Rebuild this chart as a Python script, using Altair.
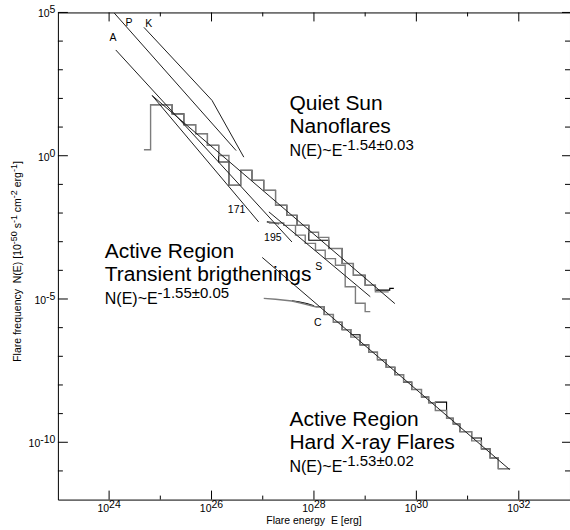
import altair as alt
import pandas as pd

# ---------------- data (log10 values) ----------------
# power-law fit lines
P_logE = [24.10, 26.48]
P_logN = [4.98, 0.18]
K_logE = [24.68, 26.01, 26.63]
K_logN = [4.48, 1.93, -0.05]
A_logE = [24.13, 27.57]
A_logN = [3.69, -3.01]
L171_logE = [24.84, 26.92]
L171_logN = [2.10, -2.31]
QSfit_logE = [24.84, 29.58]
QSfit_logN = [2.10, -5.16]
Sfit_logE = [27.12, 29.10]
Sfit_logN = [-1.96, -4.92]
Cfit_logE = [26.99, 31.82]
Cfit_logN = [-3.55, -10.95]

# Quiet Sun histograms (bin edges, values)
qs_gray_E = [24.68, 24.81, 25.23, 25.46, 25.69, 25.92, 26.14, 26.34, 26.57, 26.79, 27.02,
             27.25, 27.47, 27.67, 27.90, 28.09, 28.29, 28.55, 28.77, 29.00, 29.20, 29.46]
qs_gray_N = [0.21, 1.78, 1.46, 1.08, 0.77, 0.36, 0.01, -1.03, -0.51, -0.86, -1.21,
             -1.73, -2.08, -2.43, -2.67, -2.85, -3.24, -3.76, -4.17, -4.52, -4.75, -4.75]
qs_black_E = [24.81, 25.23, 25.46, 25.69, 25.92, 26.14, 26.34, 26.57, 26.79, 27.02, 27.25,
              27.47, 27.67, 27.90, 28.09, 28.29, 28.55, 28.77, 29.00, 29.20, 29.48, 29.56]
qs_black_N = [1.78, 1.46, 1.08, 0.77, 0.36, -0.22, -1.03, -0.51, -0.86, -1.21, -1.73,
              -2.08, -2.43, -2.95, -2.95, -3.24, -3.76, -4.17, -4.52, -4.69, -4.63, -4.63]

# 195 / S histogram
s_gray_E = [27.12, 27.41, 27.64, 27.83, 28.03, 28.22, 28.42, 28.61, 28.81, 29.00, 29.10]
s_gray_N = [-2.35, -2.43, -2.77, -3.06, -3.30, -3.59, -3.82, -4.57, -5.15, -5.44, -5.44]
s_black_E = [27.08, 27.20, 27.32]
s_black_N = [-2.31, -2.33, -2.38]

# Hard X-ray (C) distribution: rollover part and histogram
c_roll_E = [27.02, 27.25, 27.57, 27.76, 28.03]
c_roll_N = [-4.98, -5.01, -5.07, -5.15, -5.27]
c_roll_black_E = [27.57, 27.70, 27.86, 28.00]
c_roll_black_N = [-5.06, -5.10, -5.16, -5.24]
c_E = [28.03, 28.20, 28.38, 28.55, 28.72, 28.90, 29.07, 29.24, 29.41, 29.58, 29.75, 29.91,
       30.10, 30.24, 30.37, 30.59, 30.72, 30.85, 31.08, 31.27, 31.44, 31.60, 31.83]
c_gray_N = [-5.27, -5.54, -5.81, -6.07, -6.33, -6.60, -6.86, -7.12, -7.38, -7.64, -7.90, -8.16,
            -8.42, -8.62, -8.89, -9.16, -9.36, -9.63, -9.95, -10.23, -10.55, -10.92, -10.92]
c_black_N = [-5.27, -5.54, -5.81, -6.07, -6.25, -6.60, -6.86, -7.12, -7.38, -7.64, -7.90, -8.16,
             -8.42, -8.62, -8.60, -9.16, -9.36, -9.63, -9.85, -10.23, -10.55, -10.92, -10.92]

# tick values (log10)
x_major = [24, 26, 28, 30, 32]
x_minor = [25, 27, 29, 31]
y_major = [5, 0, -5, -10]
y_minor = [4, 3, 2, 1, -1, -2, -3, -4, -6, -7, -8, -9, -11]

# ---------------- layout ----------------
W, H = 513, 488
FONT = "Liberation Sans, Arial, Helvetica, sans-serif"
xs = alt.Scale(type="log", domain=[1e23, 1e33], nice=False)
ys = alt.Scale(type="log", domain=[1e-12, 1e5], nice=False)
X = alt.X("E:Q", scale=xs, axis=None)
Y = alt.Y("N:Q", scale=ys, axis=None)

CW = {' ': 278, '(': 333, ')': 333, '[': 278, ']': 278, '-': 333, '.': 278, '~': 584, '±': 549,
      'N': 722, 'E': 667, 'F': 611, 'c': 500, 'f': 278, 'i': 222, 'l': 222, 'm': 833, 'r': 333,
      's': 500, 't': 278, 'y': 500}


def tw(s, size):
    return sum(CW.get(ch, 556) for ch in s) / 1000.0 * size


def df_of(name, le, ln):
    return pd.DataFrame({"s": name, "E": [10.0 ** v for v in le],
                         "N": [10.0 ** v for v in ln], "i": list(range(len(le)))})


one = pd.DataFrame({"a": [0]})


def txt(s, x, y, size, align="left", angle=0, baseline="alphabetic", dx=0):
    return alt.Chart(one).mark_text(text=s, align=align, baseline=baseline, fontSize=size,
                                    font=FONT, angle=angle, color="black", dx=dx).encode(
        x=alt.value(x), y=alt.value(y))


layers = []

# black histograms first (gray drawn over them)
black_steps = pd.concat([df_of("qsb", qs_black_E, qs_black_N), df_of("cb", c_E, c_black_N)])
layers.append(alt.Chart(black_steps).mark_line(color="black", strokeWidth=1.1, interpolate="step-after",
                                               clip=True).encode(x=X, y=Y, detail="s:N", order="i:Q"))
black_lines = pd.concat([df_of("sb", s_black_E, s_black_N), df_of("crb", c_roll_black_E, c_roll_black_N)])
layers.append(alt.Chart(black_lines).mark_line(color="black", strokeWidth=1.1, clip=True).encode(
    x=X, y=Y, detail="s:N", order="i:Q"))

gray_steps = pd.concat([df_of("qsg", qs_gray_E, qs_gray_N), df_of("sg", s_gray_E, s_gray_N),
                        df_of("cg", c_E, c_gray_N)])
layers.append(alt.Chart(gray_steps).mark_line(color="#7c7c7c", strokeWidth=1.4, interpolate="step-after",
                                              clip=True).encode(x=X, y=Y, detail="s:N", order="i:Q"))
layers.append(alt.Chart(df_of("cr", c_roll_E, c_roll_N)).mark_line(color="#7c7c7c", strokeWidth=1.4,
                                                                    clip=True).encode(x=X, y=Y, order="i:Q"))

fits = pd.concat([df_of("P", P_logE, P_logN), df_of("K", K_logE, K_logN), df_of("A", A_logE, A_logN),
                  df_of("171", L171_logE, L171_logN), df_of("QS", QSfit_logE, QSfit_logN),
                  df_of("S", Sfit_logE, Sfit_logN), df_of("C", Cfit_logE, Cfit_logN)])
layers.append(alt.Chart(fits).mark_line(color="#1e1e1e", strokeWidth=1, clip=True).encode(
    x=X, y=Y, detail="s:N", order="i:Q"))

# ---------------- ticks (inward, on all four sides) ----------------
def vdf(vals):
    return pd.DataFrame({"v": [10.0 ** v for v in vals]})


VX = alt.X("v:Q", scale=xs, axis=None)
VY = alt.Y("v:Q", scale=ys, axis=None)
for vals, ln in ((x_major, 9), (x_minor, 4)):
    layers.append(alt.Chart(vdf(vals)).mark_rule(color="black", strokeWidth=1).encode(
        x=VX, y=alt.value(H), y2=alt.value(H - ln)))
    layers.append(alt.Chart(vdf(vals)).mark_rule(color="black", strokeWidth=1).encode(
        x=VX, y=alt.value(0), y2=alt.value(ln)))
for vals, ln, lr in ((y_major, 10, 8), (y_minor, 5, 5)):
    layers.append(alt.Chart(vdf(vals)).mark_rule(color="black", strokeWidth=1).encode(
        y=VY, x=alt.value(0), x2=alt.value(ln)))
    layers.append(alt.Chart(vdf(vals)).mark_rule(color="black", strokeWidth=1).encode(
        y=VY, x=alt.value(W), x2=alt.value(W - lr)))

# ---------------- tick labels ----------------
TS = 10.5
xl = pd.DataFrame({"v": [10.0 ** v for v in x_major], "b": ["10"] * len(x_major),
                   "e": [str(v) for v in x_major]})
layers.append(alt.Chart(xl).mark_text(align="right", baseline="alphabetic", fontSize=TS, font=FONT,
                                      color="black").encode(x=VX, y=alt.value(H + 12), text="b:N"))
layers.append(alt.Chart(xl).mark_text(align="left", baseline="alphabetic", fontSize=TS, font=FONT,
                                      color="black").encode(x=VX, y=alt.value(H + 8), text="e:N"))
for v in y_major:
    e = str(v)
    d = pd.DataFrame({"v": [10.0 ** v]})
    layers.append(alt.Chart(d).mark_text(text=e, align="right", baseline="alphabetic", fontSize=TS,
                                         font=FONT, color="black", dy=1).encode(
        x=alt.value(-2.5), y=VY))
    layers.append(alt.Chart(d).mark_text(text="10", align="right", baseline="alphabetic", fontSize=TS,
                                         font=FONT, color="black", dy=5, dx=-tw(e, TS)).encode(
        x=alt.value(-2.5), y=VY))

# ---------------- axis titles ----------------
xt_start = 208.7
layers.append(txt("Flare energy", xt_start, 512, TS))
layers.append(txt("E [erg]", xt_start + tw("Flare energy  ", TS), 512, TS))
# rotated y title built from pieces (superscripts raised); words placed separately so spaces are kept
pieces = [("Flare", False), (" frequency", False), ("  N(E)", False), (" [10", False), ("-50", True),
          (" s", False), ("-1", True), (" cm", False), ("-2", True), (" erg", False), ("-1", True),
          ("]", False)]
ypos = 350.0
for s, sup in pieces:
    size = 9.0 if sup else TS
    lead = len(s) - len(s.lstrip(" "))
    ypos -= tw(" " * lead, size)
    core = s.lstrip(" ")
    layers.append(txt(core, -37.0 - (3.5 if sup else 0), ypos, size, align="left", angle=270))
    ypos -= tw(core, size)

# ---------------- annotations ----------------
BIG, MID, SUP, SM = 21, 16, 15, 10.5


def block(x, y0, l1, l2, base, exp):
    out = [txt(l1, x, y0, BIG), txt(l2, x, y0 + 23, BIG), txt(base, x, y0 + 46, MID),
           txt(exp, x + tw(base, MID), y0 + 40, SUP)]
    return out


layers += block(232, 98, "Quiet Sun", "Nanoflares", "N(E)~E", "-1.54±0.03")
layers += block(47, 246, "Active Region", "Transient brigthenings", "N(E)~E", "-1.55±0.05")
layers += block(232, 414, "Active Region", "Hard X-ray Flares", "N(E)~E", "-1.53±0.02")

for s, x, y in (("A", 55.3, 25.3), ("P", 71.3, 10.7), ("K", 91, 12), ("171", 179, 197.7),
                ("195", 215.3, 226.3), ("S", 261.3, 254.7), ("C", 260.3, 311.3)):
    layers.append(txt(s, x, y, SM, align="center", baseline="middle"))

chart = alt.layer(*layers).properties(
    width=W, height=H,
    padding={"left": 58, "top": 12, "right": 0, "bottom": 30},
    autosize=alt.AutoSizeParams(type="none"),
    background="white",
).configure_view(stroke="black", strokeWidth=1)

chart.save("out.html", embed_options={"renderer": "svg", "actions": False})
